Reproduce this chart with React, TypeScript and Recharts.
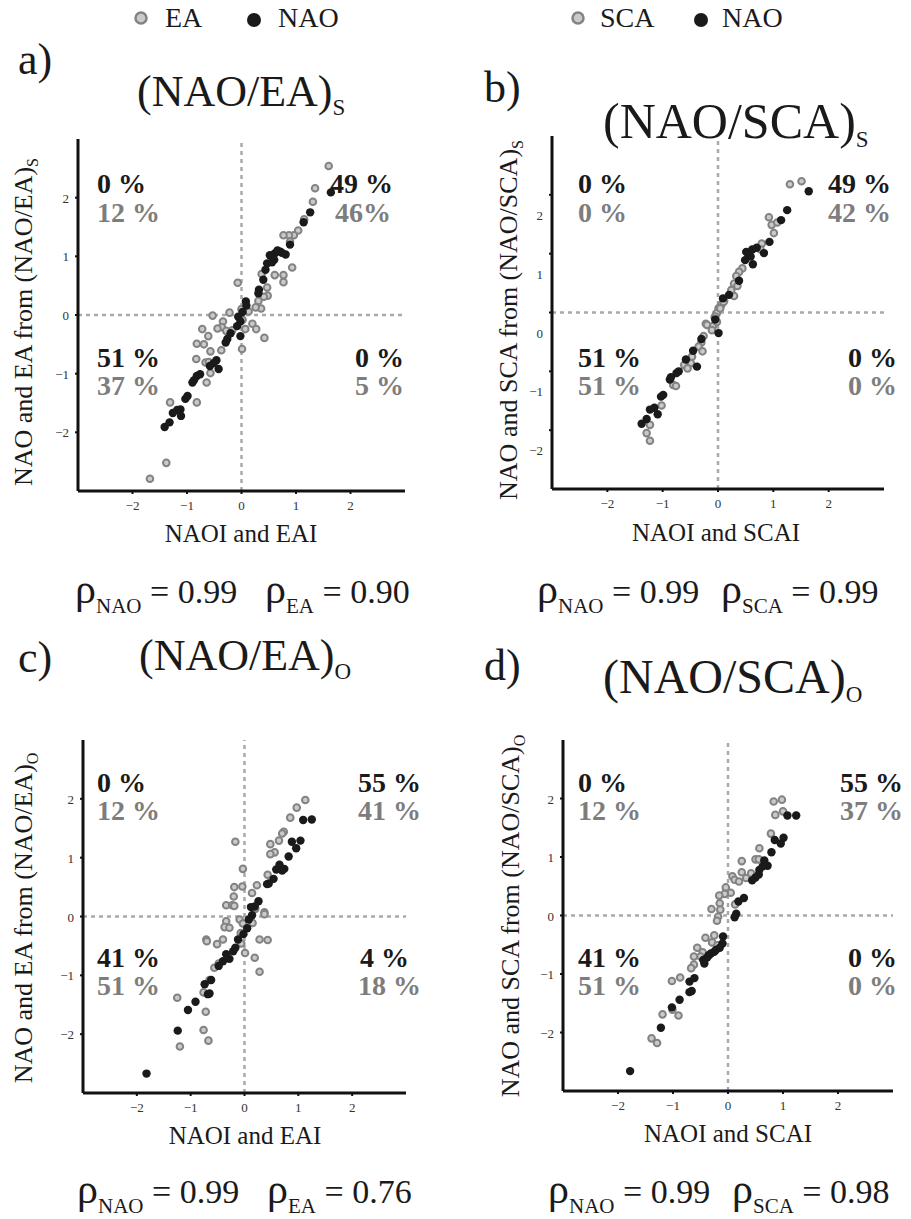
import React from "react";
import { ScatterChart, Scatter, XAxis, YAxis, ReferenceLine } from "recharts";

const FONT = "'Liberation Serif', 'Times New Roman', Times, serif";
const DOMAIN: [number, number] = [-3, 3];
const TICKS = [-2, -1, 0, 1, 2];

// panel a) (NAO/EA)_S
const aEA: [number, number][] = [
  [1.6, 2.54], [1.35, 2.16], [1.31, 1.93], [1.15, 1.63], [1.04, 1.44], [0.96, 1.36], [0.87, 1.36],
  [0.77, 1.36], [0.89, 1.25], [0.93, 0.81], [0.77, 0.68], [0.77, 0.56], [0.61, 0.68], [0.37, 0.7],
  [0.47, 0.47], [0.48, 0.33], [0.41, 0.31], [0.31, 0.24], [0.36, 0.11], [0.26, 0.13], [-0.07, 0.55],
  [0.13, 0.06], [0.0, 0.1], [-0.22, 0.04], [-0.53, -0.01], [-0.34, -0.11], [-0.36, -0.21], [-0.44, -0.23],
  [-0.28, -0.27], [-0.17, -0.26], [-0.72, -0.24], [-0.61, -0.36], [0.07, -0.24], [0.2, -0.15], [0.27, -0.24],
  [0.42, -0.39], [0.01, -0.58], [0.02, -0.08], [-0.82, -0.49], [-0.69, -0.5], [-0.57, -0.62], [-0.37, -0.6],
  [-0.83, -0.75], [-0.66, -0.81], [-0.6, -0.8], [-0.57, -0.99], [-0.64, -1.15], [-0.82, -1.49],
  [-1.31, -1.49], [-1.38, -2.52], [-1.68, -2.79],
];
const aNAO: [number, number][] = [
  [1.64, 2.09], [1.26, 1.75], [1.14, 1.58], [0.89, 1.2], [0.81, 1.03], [0.71, 1.08], [0.61, 1.05],
  [0.52, 1.02], [0.6, 0.94], [0.47, 0.88], [0.44, 0.77], [0.4, 0.6], [0.32, 0.43], [0.31, 0.37],
  [0.74, 1.06], [0.56, 0.9], [0.66, 1.1], [0.08, 0.23], [0.09, 0.16], [0.02, 0.05], [-0.06, -0.03],
  [-0.02, -0.11], [-0.08, -0.19], [-0.02, -0.36], [-0.2, -0.31], [-0.26, -0.41], [-0.29, -0.47],
  [-0.46, -0.77], [-0.51, -0.82], [-0.42, -0.92], [-0.58, -0.87], [-0.76, -1.01], [-0.82, -1.04],
  [-0.87, -1.11], [-0.9, -1.15], [-0.99, -1.38], [-1.03, -1.43], [-1.12, -1.61], [-1.18, -1.62],
  [-1.11, -1.72], [-1.26, -1.67], [-1.32, -1.83], [-1.41, -1.91],
];
const aPct = [["0 %", "12 %"], ["49 %", "46%"], ["51 %", "37 %"], ["0 %", "5 %"]];

// panel b) (NAO/SCA)_S
const bSCA: [number, number][] = [
  [1.3, 2.18], [1.51, 2.23], [0.92, 1.62], [0.97, 1.49], [1.07, 1.53], [1.01, 1.35], [0.79, 1.17],
  [0.77, 1.07], [0.44, 0.75], [0.38, 0.69], [0.33, 0.62], [0.29, 0.49], [0.35, 0.45], [0.24, 0.38],
  [0.29, 0.28], [0.11, 0.2], [0.06, 0.13], [0.01, 0.07], [-0.02, -0.01], [-0.06, -0.08], [-0.22, -0.19],
  [-0.09, -0.23], [0.1, 0.18], [0.04, 0.07], [-0.05, -0.07], [-0.02, -0.16], [-0.2, -0.21], [-0.11, -0.3],
  [-0.26, -0.4], [-0.3, -0.51], [-0.35, -0.58], [-0.28, -0.66], [-0.47, -0.75], [-0.61, -0.89],
  [-0.49, -0.86], [-0.55, -0.95], [-0.81, -1.23], [-0.76, -1.25], [-1.02, -1.58], [-1.23, -1.91],
  [-1.29, -2.05], [-1.23, -2.18],
];
const bNAO: [number, number][] = [
  [1.64, 2.06], [1.25, 1.74], [1.14, 1.57], [0.93, 1.2], [0.83, 1.01], [0.62, 1.07], [0.51, 1.03],
  [0.59, 0.95], [0.49, 0.89], [0.63, 0.82], [0.55, 0.98], [0.7, 1.1], [0.38, 0.54], [0.2, 0.3],
  [0.09, 0.24], [-0.05, -0.12], [0.01, -0.35], [-0.3, -0.45], [-0.45, -0.65], [-0.58, -0.8],
  [-0.38, -0.92], [-0.71, -1.0], [-0.75, -1.03], [-0.85, -1.1], [-0.87, -1.14], [-0.99, -1.4],
  [-1.03, -1.43], [-1.15, -1.62], [-1.23, -1.65], [-1.09, -1.73], [-1.29, -1.81], [-1.38, -1.89],
];
const bPct = [["0 %", "0 %"], ["49 %", "42 %"], ["51 %", "51 %"], ["0 %", "0 %"]];

// panel c) (NAO/EA)_O
const cEA: [number, number][] = [
  [1.13, 1.98], [0.97, 1.85], [0.85, 1.68], [0.73, 1.44], [0.7, 1.41], [0.64, 1.29], [0.48, 1.23],
  [0.56, 1.09], [0.48, 1.06], [-0.17, 1.27], [0.43, 0.71], [-0.03, 0.81], [0.23, 0.53], [-0.04, 0.51],
  [-0.19, 0.5], [0.14, 0.4], [-0.2, 0.34], [-0.34, 0.19], [-0.23, 0.19], [-0.19, 0.18], [0.2, 0.13],
  [0.37, 0.07], [0.37, 0.04], [-0.34, -0.08], [-0.09, -0.05], [-0.37, -0.18], [-0.28, -0.19],
  [-0.03, -0.12], [0.15, -0.11], [-0.07, -0.28], [-0.71, -0.39], [-0.4, -0.39], [0.28, -0.39],
  [0.43, -0.4], [-0.7, -0.42], [-0.51, -0.47], [-0.06, -0.46], [0.01, -0.62], [0.19, -0.7], [0.28, -0.94],
  [-0.48, -0.8], [-0.56, -0.87], [-0.65, -1.08], [-0.76, -1.29], [-1.25, -1.38], [-0.72, -1.62],
  [-0.76, -1.93], [-0.67, -2.11], [-1.2, -2.21],
];
const cNAO: [number, number][] = [
  [1.09, 1.64], [1.25, 1.65], [1.04, 1.29], [0.88, 1.27], [0.96, 1.16], [0.82, 1.02], [0.65, 0.88],
  [0.74, 0.81], [0.7, 0.78], [0.59, 0.8], [0.54, 0.64], [0.45, 0.56], [0.42, 0.55], [0.26, 0.26],
  [0.19, 0.17], [0.12, 0.16], [0.14, 0.02], [0.08, -0.05], [0.05, -0.2], [-0.02, -0.3], [-0.12, -0.39],
  [-0.17, -0.53], [-0.21, -0.59], [-0.34, -0.64], [-0.28, -0.72], [-0.4, -0.76], [-0.48, -0.84],
  [-0.62, -1.08], [-0.74, -1.15], [-0.65, -1.31], [-0.68, -1.32], [-0.91, -1.45], [-1.05, -1.59],
  [-1.24, -1.94], [-1.82, -2.67],
];
const cPct = [["0 %", "12 %"], ["55 %", "41 %"], ["41 %", "51 %"], ["4 %", "18 %"]];

// panel d) (NAO/SCA)_O
const dSCA: [number, number][] = [
  [0.83, 1.95], [0.98, 1.98], [0.86, 1.72], [1.0, 1.78], [0.78, 1.4], [0.57, 1.15], [0.5, 0.96],
  [0.56, 0.96], [0.25, 0.93], [0.25, 0.74], [0.42, 0.72], [0.33, 0.64], [0.08, 0.67], [0.12, 0.61],
  [0.2, 0.58], [-0.04, 0.48], [0.05, 0.39], [-0.06, 0.37], [-0.16, 0.34], [-0.15, 0.21], [0.13, 0.19],
  [-0.3, 0.11], [-0.14, 0.1], [-0.18, -0.02], [-0.2, -0.09], [-0.41, -0.38], [-0.25, -0.34],
  [-0.29, -0.46], [-0.19, -0.51], [-0.56, -0.55], [-0.46, -0.63], [-0.5, -0.7], [-0.62, -0.7],
  [-0.62, -0.84], [-0.67, -0.9], [-0.87, -1.06], [-1.02, -1.12], [-1.01, -1.61], [-0.9, -1.71],
  [-1.19, -1.69], [-1.39, -2.1], [-1.29, -2.18],
];
const dNAO: [number, number][] = [
  [1.08, 1.71], [1.24, 1.71], [0.85, 1.29], [1.01, 1.33], [0.96, 1.23], [0.79, 1.08], [0.66, 0.94],
  [0.72, 0.85], [0.63, 0.84], [0.57, 0.78], [0.56, 0.7], [0.5, 0.65], [0.44, 0.6], [0.29, 0.3],
  [0.19, 0.24], [0.15, 0.03], [0.12, -0.03], [-0.09, -0.36], [-0.1, -0.48], [-0.15, -0.55],
  [-0.22, -0.59], [-0.25, -0.62], [-0.31, -0.65], [-0.35, -0.68], [-0.38, -0.72], [-0.45, -0.76],
  [-0.43, -0.82], [-0.61, -1.07], [-0.7, -1.13], [-0.66, -1.29], [-0.7, -1.31], [-0.88, -1.44],
  [-1.02, -1.57], [-1.22, -1.92], [-1.78, -2.66],
];
const dPct = [["0 %", "12 %"], ["55 %", "37 %"], ["41 %", "51 %"], ["0 %", "0 %"]];

const toPts = (arr: [number, number][]) => arr.map(([x, y]) => ({ x, y }));
const fmt = (v: number) => (v < 0 ? "\u2212" + Math.abs(v) : String(v));

const EaDot = (p: any) => (
  <circle cx={p.cx} cy={p.cy} r={3.3} fill="#cacaca" stroke="#838383" strokeWidth={2} />
);
const NaoDot = (p: any) => <circle cx={p.cx} cy={p.cy} r={4.2} fill="#1a1a1a" />;

const GRAY = "#7d7d7d";
const BLACK = "#1a1a1a";
const serif = (extra: React.CSSProperties = {}): React.CSSProperties => ({ fontFamily: FONT, whiteSpace: "pre", ...extra });

type Plot = { x: number; y: number; w: number; h: number };

function Panel({ plot, ea, nao, yDy = 0 }: { plot: Plot; ea: [number, number][]; nao: [number, number][]; yDy?: number }) {
  const YW = 45;
  const XH = 35;
  const MT = 6;
  const MR = 8;
  const axisLine = { stroke: "#111", strokeWidth: 3 };
  return (
    <div style={{ position: "absolute", left: plot.x - YW, top: plot.y - MT }}>
      <ScatterChart width={plot.w + YW + MR} height={plot.h + MT + XH} margin={{ top: MT, right: MR, bottom: 0, left: 0 }}>
        <XAxis
          type="number"
          dataKey="x"
          domain={DOMAIN}
          ticks={TICKS}
          interval={0}
          height={XH}
          axisLine={axisLine}
          tickLine={{ stroke: "#111", strokeWidth: 2 }}
          tickSize={3}
          tick={(p: any) => (
            <text x={p.x} y={p.y + 14} textAnchor="middle" fontSize={13} fill="#333" style={serif()}>
              {fmt(p.payload.value)}
            </text>
          )}
        />
        <YAxis
          type="number"
          dataKey="y"
          domain={DOMAIN}
          ticks={TICKS}
          interval={0}
          width={YW}
          axisLine={axisLine}
          tickLine={{ stroke: "#111", strokeWidth: 2 }}
          tickSize={3}
          tick={(p: any) => (
            <text x={p.x - 4} y={p.y + 5 + yDy} textAnchor="end" fontSize={13} fill="#333" style={serif()}>
              {fmt(p.payload.value)}
            </text>
          )}
        />
        <ReferenceLine x={0} stroke="#a9a9a9" strokeDasharray="4 4" strokeWidth={2.5} />
        <ReferenceLine y={0} stroke="#a9a9a9" strokeDasharray="4 4" strokeWidth={2.5} />
        <Scatter data={toPts(ea)} isAnimationActive={false} shape={EaDot} />
        <Scatter data={toPts(nao)} isAnimationActive={false} shape={NaoDot} />
      </ScatterChart>
    </div>
  );
}

function Pct({ pct, cols, rows }: { pct: string[][]; cols: number[][]; rows: number[][] }) {
  const st = serif({ fontWeight: "bold", fontSize: 28 });
  return (
    <g>
      {pct.map((pair, i) => (
        <g key={i}>
          <text x={cols[i][0]} y={rows[i][0]} fill={BLACK} style={st}>{pair[0]}</text>
          <text x={cols[i][1]} y={rows[i][1]} fill={GRAY} style={st}>{pair[1]}</text>
        </g>
      ))}
    </g>
  );
}

function Rho({ x1, x2, y, s2, v1, v2 }: { x1: number; x2: number; y: number; s2: string; v1: string; v2: string }) {
  const st = serif({ fontSize: 34 });
  return (
    <g fill={BLACK}>
      <text x={x1} y={y} style={st}>
        <tspan style={{ fontSize: 42 }}>ρ</tspan>
        <tspan style={{ fontSize: 21 }} dy={10}>NAO</tspan>
        <tspan dy={-10}>{" = " + v1}</tspan>
      </text>
      <text x={x2} y={y} style={st}>
        <tspan style={{ fontSize: 42 }}>ρ</tspan>
        <tspan style={{ fontSize: 21 }} dy={10}>{s2}</tspan>
        <tspan dy={-10}>{" = " + v2}</tspan>
      </text>
    </g>
  );
}

function YLabel({ x, y, mode, sub }: { x: number; y: number; mode: string; sub: string }) {
  return (
    <text transform={`translate(${x},${y}) rotate(-90)`} textAnchor="middle" fill={BLACK} style={serif({ fontSize: 26 })}>
      {`NAO and ${mode} from (NAO/${mode})`}
      <tspan style={{ fontSize: 16 }} dy={6}>{sub}</tspan>
    </text>
  );
}

function Title({ x, y, text, sub, size }: { x: number; y: number; text: string; sub: string; size: number }) {
  return (
    <text x={x} y={y} fill={BLACK} style={serif({ fontSize: size })}>
      {text}
      <tspan style={{ fontSize: 23 }} dy={9}>{sub}</tspan>
    </text>
  );
}

export default function App() {
  const legend = serif({ fontSize: 28 });
  const letter = serif({ fontSize: 44 });
  const xl = serif({ fontSize: 25 });
  return (
    <div style={{ position: "absolute", left: 0, top: 0, width: 911, height: 1219, background: "#fff", overflow: "hidden" }}>
      <Panel plot={{ x: 78, y: 139, w: 327, h: 352 }} ea={aEA} nao={aNAO} />
      <Panel plot={{ x: 552, y: 136, w: 332, h: 353 }} ea={bSCA} nao={bNAO} yDy={20} />
      <Panel plot={{ x: 83, y: 740, w: 323, h: 353 }} ea={cEA} nao={cNAO} />
      <Panel plot={{ x: 563, y: 740, w: 330, h: 351 }} ea={dSCA} nao={dNAO} />
      <svg width={911} height={1219} style={{ position: "absolute", left: 0, top: 0, pointerEvents: "none" }}>
        {/* legends */}
        <g fill={BLACK}>
          <circle cx={141} cy={18} r={5.5} fill="#cacaca" stroke="#838383" strokeWidth={2.5} />
          <text x={165} y={27} style={legend}>EA</text>
          <circle cx={254} cy={20} r={7} fill={BLACK} />
          <text x={278} y={27} style={legend}>NAO</text>
          <circle cx={578} cy={18} r={5.5} fill="#cacaca" stroke="#838383" strokeWidth={2.5} />
          <text x={600} y={27} style={legend}>SCA</text>
          <circle cx={701} cy={20} r={7} fill={BLACK} />
          <text x={722} y={27} style={legend}>NAO</text>
        </g>
        {/* panel letters */}
        <g fill={BLACK}>
          <text x={18} y={74} style={letter}>a)</text>
          <text x={484} y={102} style={letter}>b)</text>
          <text x={18} y={672} style={letter}>c)</text>
          <text x={484} y={680} style={letter}>d)</text>
        </g>
        <Title x={137} y={106} text="(NAO/EA)" sub="S" size={44} />
        <Title x={603} y={138} text="(NAO/SCA)" sub="S" size={50} />
        <Title x={139} y={670} text="(NAO/EA)" sub="O" size={44} />
        <Title x={603} y={693} text="(NAO/SCA)" sub="O" size={48} />
        <YLabel x={32} y={322} mode="EA" sub="S" />
        <YLabel x={517} y={320} mode="SCA" sub="S" />
        <YLabel x={32} y={918} mode="EA" sub="O" />
        <YLabel x={519} y={916} mode="SCA" sub="O" />
        <g fill={BLACK} textAnchor="middle">
          <text x={241} y={542} style={xl}>NAOI and EAI</text>
          <text x={716} y={541} style={xl}>NAOI and SCAI</text>
          <text x={245} y={1144} style={xl}>NAOI and EAI</text>
          <text x={728} y={1142} style={xl}>NAOI and SCAI</text>
        </g>
        <Pct pct={aPct} cols={[[97, 97], [330, 335], [97, 97], [355, 355]]} rows={[[193, 222], [193, 222], [367, 395], [367, 395]]} />
        <Pct pct={bPct} cols={[[578, 578], [828, 828], [578, 578], [848, 848]]} rows={[[193, 222], [193, 222], [367, 395], [367, 395]]} />
        <Pct pct={cPct} cols={[[97, 97], [358, 358], [97, 97], [360, 358]]} rows={[[792, 820], [792, 820], [967, 995], [967, 995]]} />
        <Pct pct={dPct} cols={[[578, 578], [840, 840], [578, 578], [848, 848]]} rows={[[792, 820], [792, 820], [967, 995], [967, 995]]} />
        <Rho x1={75} x2={265} y={603} s2="EA" v1="0.99" v2="0.90" />
        <Rho x1={537} x2={721} y={603} s2="SCA" v1="0.99" v2="0.99" />
        <Rho x1={77} x2={267} y={1203} s2="EA" v1="0.99" v2="0.76" />
        <Rho x1={548} x2={732} y={1203} s2="SCA" v1="0.99" v2="0.98" />
      </svg>
    </div>
  );
}
